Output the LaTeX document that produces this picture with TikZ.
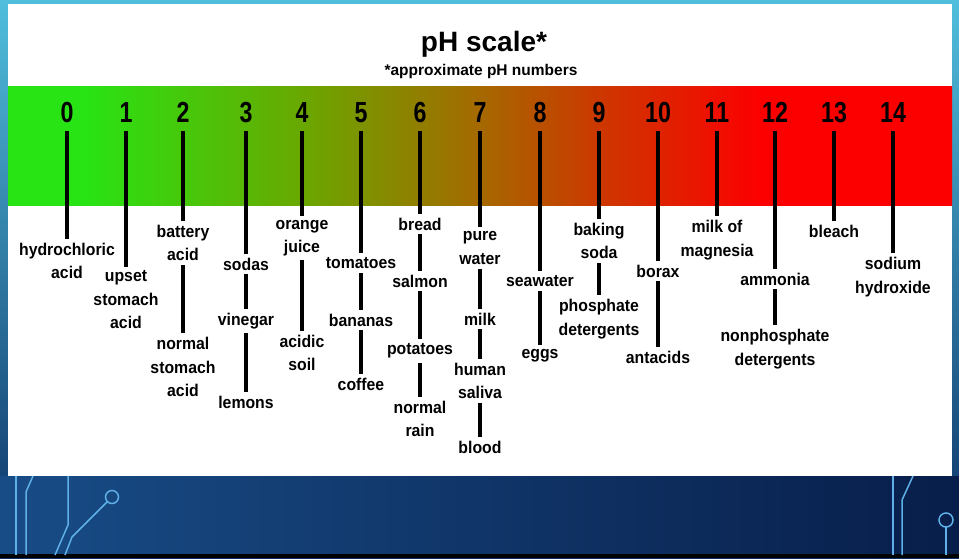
\documentclass[tikz,border=0pt]{standalone}
\usepackage{fontspec}
\setmainfont{Liberation Sans}
\newfontfamily\digitfont{Liberation Sans}[FakeStretch=0.8]
\newfontfamily\labelfont{Liberation Sans}[FakeStretch=0.93]
\usetikzlibrary{positioning}

\definecolor{skytop}{RGB}{80,190,220}
\definecolor{skybot}{RGB}{12,48,102}
\definecolor{circuit}{RGB}{95,175,232}
\definecolor{bandA}{RGB}{40,228,20}
\definecolor{bandB}{RGB}{105,168,0}
\definecolor{bandC}{RGB}{165,105,0}
\definecolor{bandD}{RGB}{205,55,0}
\definecolor{bandE}{RGB}{252,0,0}
\pgfdeclarehorizontalshading{phband}{100bp}{%
  color(0bp)=(bandA);
  color(25bp)=(bandA);
  color(29bp)=(bandA);
  color(40.5bp)=(bandB);
  color(50bp)=(bandC);
  color(56.4bp)=(bandD);
  color(64.8bp)=(bandE);
  color(100bp)=(bandE)}

\begin{document}
\begin{tikzpicture}
[x=1pt,y=-1pt,
 num/.style={font=\digitfont\bfseries\fontsize{29}{29}\selectfont,text height=20.5pt,text depth=0pt,inner xsep=2pt,inner ysep=9pt},
 item/.style={align=center,font=\labelfont\bfseries\fontsize{17}{23.5}\selectfont,inner sep=4pt},
 stick/.style={line width=3.2pt},
 wire/.style={circuit,line width=1.5pt}]
\useasboundingbox (0,0) rectangle (959,558);
% background
\shade[top color=skytop,bottom color=skybot] (0,0) rectangle (959,558);
\shade[left color={rgb,255:red,24;green,76;blue,134},right color={rgb,255:red,8;green,30;blue,74}] (0,476) rectangle (959,555);
\fill[black] (0,554) rectangle (959,558);
\draw[wire] (16,476) -- (16,555);
\draw[wire] (33,476) -- (26,492) -- (26,555);
\draw[wire] (68,476) -- (68,525) -- (55,555);
\draw[wire] (112,497) circle (6.5);
\draw[wire] (107.5,501.5) -- (72,537) -- (65,555);
\draw[wire] (893,476) -- (893,555);
\draw[wire] (913,476) -- (902,500) -- (902,555);
\draw[wire] (946,520) circle (7);
\draw[wire] (946,527) -- (946,555);
% card
\fill[white] (8,4) rectangle (952,476);
\shade[shading=phband] (8,86) rectangle (952,205);
\node[font=\bfseries\fontsize{28}{28}\selectfont] (title) at (484,44) {pH scale*};
\node[font=\bfseries\fontsize{15.5}{16}\selectfont] (sub) at (481,71) {*approximate pH numbers};
\foreach \i/\x in {0/67,1/126,2/183,3/246,4/302,5/361,6/420,7/480,8/540,9/599,10/658,11/717,12/775,13/834,14/893}
\node[num] (n\i) at (\x,112) {\i};
\node[item] (hcl) at (67,261) {hydrochloric\\acid};
\node[item] (upset) at (126,300) {upset\\stomach\\acid};
\node[item] (battery) at (183,243) {battery\\acid};
\node[item] (normstom) at (183,367) {normal\\stomach\\acid};
\node[item] (sodas) at (246,264) {sodas};
\node[item] (vinegar) at (246,321) {vinegar};
\node[item] (lemons) at (246,402) {lemons};
\node[item] (oj) at (302,238) {orange\\juice};
\node[item] (soil) at (302,353) {acidic\\soil};
\node[item] (tomatoes) at (361,263) {tomatoes};
\node[item] (bananas) at (361,320) {bananas};
\node[item] (coffee) at (361,384) {coffee};
\node[item] (bread) at (420,224) {bread};
\node[item] (salmon) at (420,281) {salmon};
\node[item] (potatoes) at (420,351) {potatoes};
\node[item] (rain) at (420,419) {normal\\rain};
\node[item] (water) at (480,248) {pure\\water};
\node[item] (milk) at (480,319) {milk};
\node[item] (saliva) at (480,381) {human\\saliva};
\node[item] (blood) at (480,447) {blood};
\node[item] (sea) at (540,281) {seawater};
\node[item] (eggs) at (540,356) {eggs};
\node[item] (baking) at (599,241) {baking\\soda};
\node[item] (phos) at (599,319) {phosphate\\detergents};
\node[item] (borax) at (658,271) {borax};
\node[item] (antacids) at (658,357) {antacids};
\node[item] (magnesia) at (717,240) {milk of\\magnesia};
\node[item] (ammonia) at (775,279) {ammonia};
\node[item] (nonphos) at (775,349) {nonphosphate\\detergents};
\node[item] (bleach) at (834,231) {bleach};
\node[item] (naoh) at (893,277) {sodium\\hydroxide};
\foreach \from/\to in {n0/hcl,n1/upset,n2/battery,battery/normstom,n3/sodas,sodas/vinegar,vinegar/lemons,n4/oj,oj/soil,n5/tomatoes,tomatoes/bananas,bananas/coffee,n6/bread,bread/salmon,salmon/potatoes,potatoes/rain,n7/water,water/milk,milk/saliva,saliva/blood,n8/sea,sea/eggs,n9/baking,baking/phos,n10/borax,borax/antacids,n11/magnesia,n12/ammonia,ammonia/nonphos,n13/bleach,n14/naoh}
\draw[stick] (\from) -- (\to);
\end{tikzpicture}
\end{document}
